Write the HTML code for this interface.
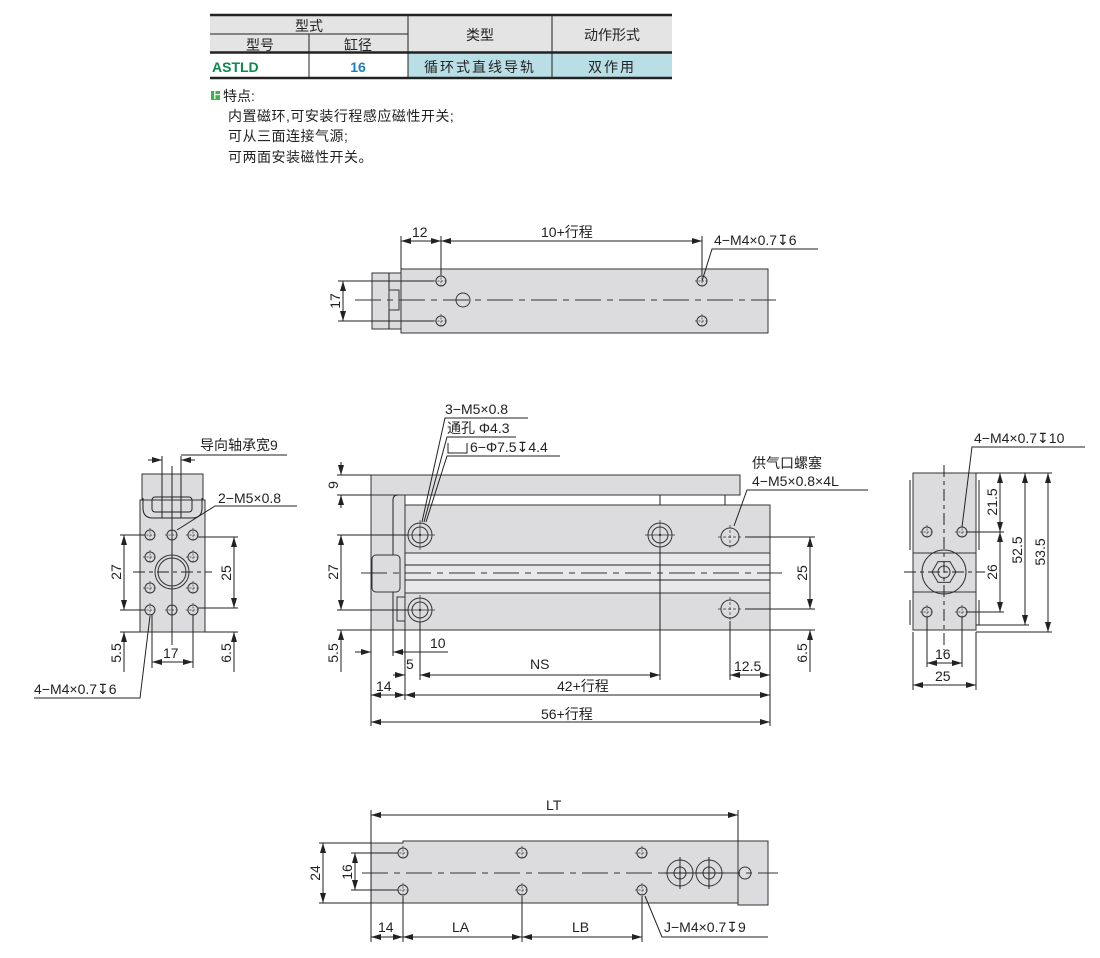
<!DOCTYPE html>
<html><head><meta charset="utf-8"><style>
body{margin:0;background:#fff;}
svg{display:block;font-family:"Liberation Sans","Noto Sans CJK SC",sans-serif;}
.d{stroke:#222;stroke-width:1;fill:none}
.b{fill:#dcdcde;stroke:#333;stroke-width:1}
.c{stroke:#333;stroke-width:1;stroke-dasharray:26,6,6,6;fill:none}
.h{fill:none;stroke:#333;stroke-width:1}
text{fill:#222;font-size:14px}
.v{text-anchor:middle}
</style></head><body>
<svg width="1100" height="958" viewBox="0 0 1100 958">
<defs>
<marker id="a" viewBox="0 0 10 6" refX="10" refY="3" markerWidth="10" markerHeight="6" orient="auto-start-reverse" markerUnits="userSpaceOnUse"><path d="M0,0L10,3L0,6z" fill="#222"/></marker>
<g id="sh"><circle r="5" class="h"/><path d="M-7,0H7M0,-7V7" stroke="#333" stroke-width="0.7" stroke-dasharray="2,1.5"/></g>
<g id="bh"><circle r="12" class="h"/><circle r="8" class="h"/><path d="M-15,0H15M0,-15V15" stroke="#333" stroke-width="0.7"/><circle r="1.2" fill="#333"/></g>
<g id="mh"><circle r="9" class="h"/><path d="M-12,0H12M0,-12V12" stroke="#333" stroke-width="0.7" stroke-dasharray="3,2"/></g>
</defs>

<!-- table -->
<rect x="210" y="15" width="462" height="38" fill="#e4e4e4"/>
<rect x="408" y="53" width="264" height="25" fill="#b9dee5"/>
<g stroke="#222" fill="none">
<path d="M210,15H672M210,52.5H672M210,78H672" stroke-width="2.5"/>
<path d="M210,34H408M309,34V78M408,15V78M552,15V78" stroke-width="1"/>
</g>
<g font-size="15" text-anchor="middle">
<text x="309" y="31" font-size="15">型式</text>
<text x="260" y="50" font-size="15">型号</text><text x="358" y="50" font-size="15">缸径</text>
<text x="480" y="40" font-size="15">类型</text><text x="612" y="40" font-size="15">动作形式</text>
<text x="480" y="72" font-size="15" fill="#333" letter-spacing="2">循环式直线导轨</text><text x="612" y="72" font-size="15" letter-spacing="2">双作用</text>
<text x="358" y="72" font-size="15" font-weight="bold" style="fill:#1a7fc0">16</text>
</g>
<text x="212" y="72" font-size="15" font-weight="bold" style="fill:#0a8a4a">ASTLD</text>
<rect x="211" y="91" width="9" height="9" fill="#3cb44a"/><text x="213" y="99" font-size="8" style="fill:#fff">F</text>
<text x="223" y="101" font-size="14">特点:</text>
<text x="228" y="121" font-size="14" letter-spacing="0.5">内置磁环,可安装行程感应磁性开关;</text>
<text x="228" y="141" font-size="14" letter-spacing="0.5">可从三面连接气源;</text>
<text x="228" y="162" font-size="14" letter-spacing="0.5">可两面安装磁性开关。</text>

<!-- top view -->
<rect class="b" x="372" y="273" width="29" height="56"/>
<path class="d" d="M389,273V329"/>
<rect class="b" x="389" y="290" width="10" height="20"/>
<rect class="b" x="401" y="269" width="367" height="64"/>
<path class="c" d="M355,300H776"/>
<circle cx="463" cy="300" r="7" class="h"/>
<use href="#sh" x="441" y="281"/><use href="#sh" x="441" y="321"/>
<use href="#sh" x="702" y="281"/><use href="#sh" x="702" y="321"/>
<path class="d" d="M401,236V269M441,236V275M702,236V275M338,281H434M338,321H434"/>
<path class="d" d="M401,241H441" marker-start="url(#a)" marker-end="url(#a)"/>
<path class="d" d="M441,241H702" marker-start="url(#a)" marker-end="url(#a)"/>
<path class="d" d="M343,281V321" marker-start="url(#a)" marker-end="url(#a)"/>
<text x="412" y="237">12</text><text x="541" y="237">10+行程</text>
<text class="v" transform="translate(340,301) rotate(-90)">17</text>
<text x="714" y="245">4−M4×0.7↧6</text>
<path class="d" d="M818,249H712L702,281"/>

<!-- front view -->
<rect class="b" x="371" y="475" width="369" height="20"/>
<path class="b" d="M371,495H405V630H371Z"/>
<path class="d" d="M393,630V500Q393,495 398,495"/>
<rect class="b" x="405" y="505" width="365" height="125"/>
<path class="d" d="M660,495V505M725,495V505"/>
<rect x="405" y="553" width="365" height="40" fill="#e8e8ea" stroke="#333"/>
<path class="d" d="M405,565H770M405,580H770"/>
<rect class="b" x="372" y="555" width="28" height="37" rx="4"/>
<rect class="b" x="397" y="597" width="8" height="24"/>
<path class="c" d="M361,573H782"/>
<use href="#bh" x="420" y="535"/><use href="#bh" x="660" y="535"/><use href="#bh" x="420" y="610"/>
<use href="#mh" x="730" y="537"/><use href="#mh" x="730" y="609"/>
<path class="d" d="M337,475H371M337,495H371M337,535H408M337,610H408M337,630H371M745,537H815M745,609H815M770,630H815"/>
<path class="d" d="M341,462V475" marker-end="url(#a)"/><path class="d" d="M341,508V495" marker-end="url(#a)"/>
<path class="d" d="M341,535V610" marker-start="url(#a)" marker-end="url(#a)"/>
<path class="d" d="M341,672V630" marker-end="url(#a)"/>
<path class="d" d="M810,537V609" marker-start="url(#a)" marker-end="url(#a)"/>
<path class="d" d="M810,672V630" marker-end="url(#a)"/>
<path class="d" d="M371,630V726M405,630V700M393,630V656M420,622V680M660,547V680M730,621V680M770,630V726"/>
<path class="d" d="M355,652H371" marker-end="url(#a)"/><path class="d" d="M448,652H393" marker-end="url(#a)"/>
<path class="d" d="M393,675H405" marker-end="url(#a)"/><path class="d" d="M420,675H660" marker-start="url(#a)" marker-end="url(#a)"/>
<path class="d" d="M730,675H770" marker-start="url(#a)" marker-end="url(#a)"/>
<path class="d" d="M371,695H405" marker-start="url(#a)" marker-end="url(#a)"/>
<path class="d" d="M405,695H770" marker-start="url(#a)" marker-end="url(#a)"/>
<path class="d" d="M371,722H770" marker-start="url(#a)" marker-end="url(#a)"/>
<text class="v" transform="translate(338,485) rotate(-90)">9</text>
<text class="v" transform="translate(338,572) rotate(-90)">27</text>
<text class="v" transform="translate(338,653) rotate(-90)">5.5</text>
<text class="v" transform="translate(807,573) rotate(-90)">25</text>
<text class="v" transform="translate(807,653) rotate(-90)">6.5</text>
<text x="430" y="648">10</text><text x="406" y="669">5</text><text x="530" y="669">NS</text>
<text x="734" y="671">12.5</text><text x="376" y="691">14</text>
<text x="557" y="691">42+行程</text><text x="541" y="719">56+行程</text>
<text x="445" y="414">3−M5×0.8</text><path class="d" d="M528,418H445L422,522"/>
<text x="447" y="433">通孔 Φ4.3</text><path class="d" d="M516,437H447L424,522"/>
<path class="d" d="M448,443V453H467V443"/>
<text x="470" y="452">6−Φ7.5↧4.4</text><path class="d" d="M560,456H447L426,522"/>
<text x="752" y="468">供气口螺塞</text>
<text x="752" y="486">4−M5×0.8×4L</text><path class="d" d="M868,490H747L734,526"/>

<!-- left view -->
<rect class="b" x="142" y="474" width="61" height="26"/>
<rect class="b" x="140" y="500" width="65" height="132"/>
<path class="d" d="M143,498V508Q143,518 153,518H192Q202,518 202,508V498"/>
<rect class="d" x="152" y="497" width="40" height="15" rx="3"/>
<path class="d" d="M162,456V518M181,456V518M172,466V645"/>
<path class="d" d="M148,460H162" marker-end="url(#a)"/><path class="d" d="M195,460H181" marker-end="url(#a)"/>
<circle cx="172" cy="572" r="17" class="h"/><circle cx="172" cy="572" r="14" class="h"/>
<path class="d" d="M133,572H212" stroke-dasharray="12,4,4,4"/>
<use href="#sh" x="150" y="535"/><use href="#sh" x="172" y="535"/><use href="#sh" x="193" y="535"/>
<use href="#sh" x="150" y="610"/><use href="#sh" x="172" y="610"/><use href="#sh" x="193" y="610"/>
<use href="#sh" x="150" y="557"/><use href="#sh" x="150" y="588"/><use href="#sh" x="193" y="557"/><use href="#sh" x="193" y="588"/>
<path class="d" d="M120,535H145M120,610H145M198,537H238M198,608H238M120,632H140M205,632H238M152,615V668M193,615V668"/>
<path class="d" d="M124,535V610" marker-start="url(#a)" marker-end="url(#a)"/>
<path class="d" d="M234,537V608" marker-start="url(#a)" marker-end="url(#a)"/>
<path class="d" d="M124,672V632" marker-end="url(#a)"/><path class="d" d="M234,672V632" marker-end="url(#a)"/>
<path class="d" d="M152,662H193" marker-start="url(#a)" marker-end="url(#a)"/>
<text class="v" transform="translate(121,572) rotate(-90)">27</text>
<text class="v" transform="translate(231,573) rotate(-90)">25</text>
<text class="v" transform="translate(121,653) rotate(-90)">5.5</text>
<text class="v" transform="translate(231,653) rotate(-90)">6.5</text>
<text x="163" y="658">17</text>
<text x="200" y="450">导向轴承宽9</text><path class="d" d="M287,455H181"/>
<text x="218" y="503">2−M5×0.8</text><path class="d" d="M297,506H215L177,530"/>
<text x="34" y="694">4−M4×0.7↧6</text><path class="d" d="M34,698H140L150,616"/>

<!-- right view -->
<rect class="b" x="913" y="473" width="63" height="80"/>
<rect class="b" x="913" y="553" width="63" height="39"/>
<rect class="b" x="913" y="592" width="63" height="38"/>
<path class="d" d="M910,480V550M979,480V550M910,600V625M979,600V625"/>
<circle cx="944" cy="572" r="22" class="h"/>
<polygon points="956,572 950,582.4 938,582.4 932,572 938,561.6 950,561.6" class="h"/>
<circle cx="944" cy="572" r="6" class="h"/>
<path class="d" d="M944,465V650M904,572H985" stroke-dasharray="12,4,4,4"/>
<use href="#sh" x="927" y="532"/><use href="#sh" x="962" y="532"/><use href="#sh" x="927" y="612"/><use href="#sh" x="962" y="612"/>
<path class="d" d="M976,473H1052M967,532H1004M967,612H1004M976,625H1029M976,632H1052M913,632V690M976,632V690M927,617V667M962,617V667"/>
<path class="d" d="M1000,473V532" marker-start="url(#a)" marker-end="url(#a)"/>
<path class="d" d="M1000,532V612" marker-start="url(#a)" marker-end="url(#a)"/>
<path class="d" d="M1025,473V625" marker-start="url(#a)" marker-end="url(#a)"/>
<path class="d" d="M1048,473V632" marker-start="url(#a)" marker-end="url(#a)"/>
<path class="d" d="M927,663H962" marker-start="url(#a)" marker-end="url(#a)"/>
<path class="d" d="M913,685H976" marker-start="url(#a)" marker-end="url(#a)"/>
<text class="v" transform="translate(997,502) rotate(-90)">21.5</text>
<text class="v" transform="translate(997,572) rotate(-90)">26</text>
<text class="v" transform="translate(1022,550) rotate(-90)">52.5</text>
<text class="v" transform="translate(1045,552) rotate(-90)">53.5</text>
<text x="935" y="659">16</text><text x="935" y="681">25</text>
<text x="974" y="443">4−M4×0.7↧10</text><path class="d" d="M1085,447H972L962,527"/>

<!-- bottom view -->
<path class="b" d="M371,843H403V841H738V903H371Z"/>
<rect class="b" x="738" y="841" width="30" height="64"/>
<path class="c" d="M362,873H778"/>
<use href="#sh" x="403" y="853"/><use href="#sh" x="522" y="853"/><use href="#sh" x="642" y="853"/>
<use href="#sh" x="403" y="890"/><use href="#sh" x="522" y="890"/><use href="#sh" x="642" y="890"/>
<circle cx="680" cy="873" r="13" class="h"/><circle cx="680" cy="873" r="6" class="h"/>
<circle cx="709" cy="873" r="13" class="h"/><circle cx="709" cy="873" r="6" class="h"/>
<path class="d" d="M680,857V889M709,857V889M664,873H725"/>
<circle cx="745" cy="873" r="6" class="h"/>
<path class="d" d="M371,810V942M738,810V841M319,843H371M319,903H371M351,853H398M351,890H398M403,896V942M522,896V942M642,896V942"/>
<path class="d" d="M371,815H738" marker-start="url(#a)" marker-end="url(#a)"/>
<path class="d" d="M323,843V903" marker-start="url(#a)" marker-end="url(#a)"/>
<path class="d" d="M355,853V890" marker-start="url(#a)" marker-end="url(#a)"/>
<path class="d" d="M371,937H403" marker-start="url(#a)" marker-end="url(#a)"/>
<path class="d" d="M403,937H522" marker-start="url(#a)" marker-end="url(#a)"/>
<path class="d" d="M522,937H642" marker-start="url(#a)" marker-end="url(#a)"/>
<text x="546" y="810">LT</text>
<text class="v" transform="translate(320,873) rotate(-90)">24</text>
<text class="v" transform="translate(352,872) rotate(-90)">16</text>
<text x="378" y="932">14</text><text x="452" y="932">LA</text><text x="572" y="932">LB</text>
<text x="664" y="932">J−M4×0.7↧9</text><path class="d" d="M768,937H662L645,896"/>
</svg>
</body></html>
